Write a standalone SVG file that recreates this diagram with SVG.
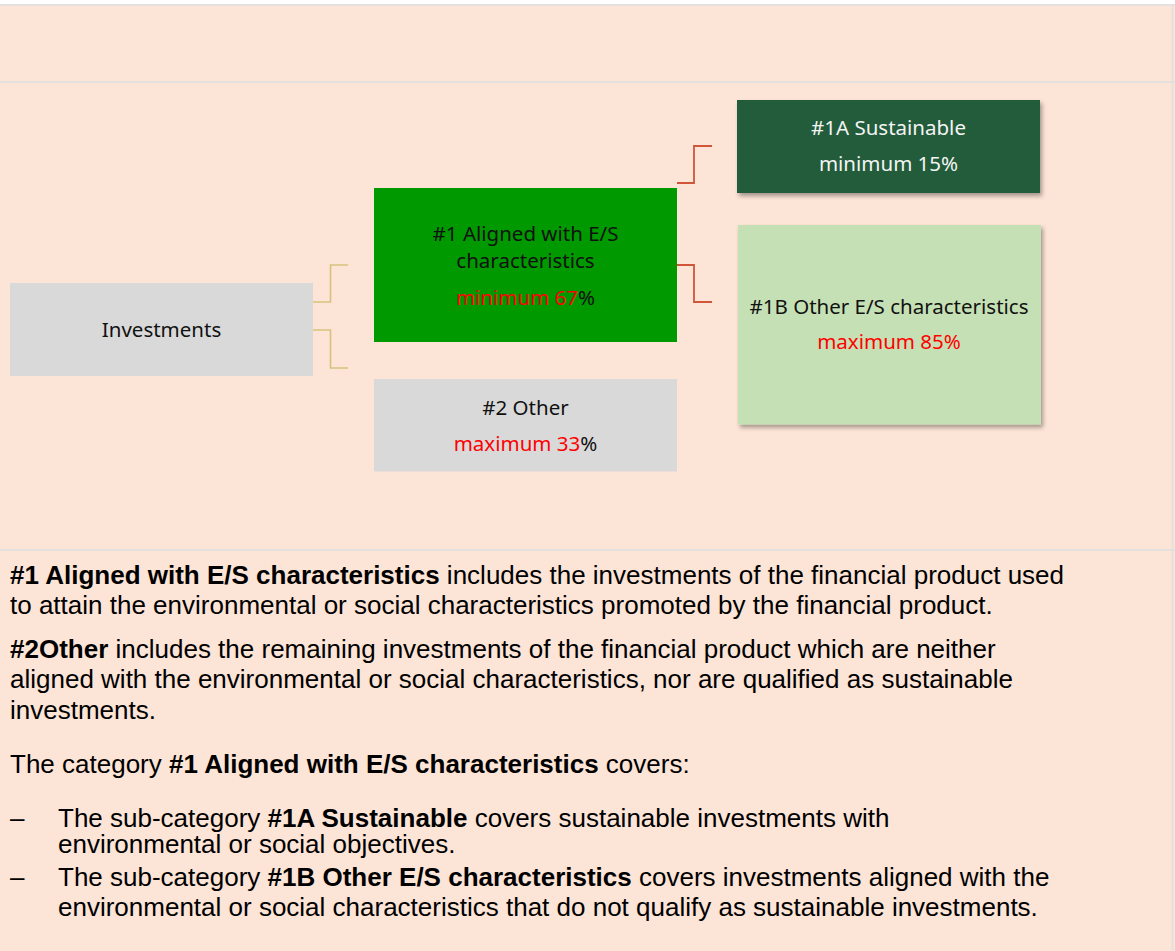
<svg xmlns="http://www.w3.org/2000/svg" width="1175" height="951" viewBox="0 0 1175 951">
<defs>
<style>
.bg{fill:#FCE4D6}
.rule{stroke:#E3E0DE;stroke-width:2;fill:none}
.box text{font-family:"Noto Sans","Open Sans",sans-serif;font-size:20.5px;text-anchor:middle;fill:#111}
.box .red{fill:#FF0000}
.box .wt{fill:#F4F4F4}
.yc{stroke:#D6C27C;stroke-width:1.6;fill:none}
.rc{stroke:#D0553A;stroke-width:1.8;fill:none}
.body{font-family:"Liberation Sans",Arial,sans-serif;font-size:26px;fill:#000}
.b{font-weight:bold}
</style>
<filter id="sh" x="-10%" y="-10%" width="125%" height="130%">
<feDropShadow dx="2" dy="3" stdDeviation="2" flood-color="#000" flood-opacity="0.35"/>
</filter>
</defs>
<rect class="bg" x="0" y="0" width="1175" height="951"/>
<rect x="0" y="0" width="1175" height="4" fill="#FFFFFF"/>
<line class="rule" x1="0" y1="5" x2="1175" y2="5"/>
<line class="rule" x1="0" y1="82" x2="1175" y2="82"/>
<line class="rule" x1="0" y1="550" x2="1175" y2="550"/>
<line class="rule" x1="1172.5" y1="5" x2="1172.5" y2="951" stroke-width="1.5"/>

<g id="connectors">
<polyline class="yc" points="313,302 330.5,302 330.5,265 348,265"/>
<polyline class="yc" points="313,330 330.5,330 330.5,368 348,368"/>
<polyline class="rc" points="677,183 694,183 694,146 712,146"/>
<polyline class="rc" points="677,265 694,265 694,302 712,302"/>
</g>

<g id="investments" class="box">
<rect x="10" y="283" width="303" height="93" fill="#D9D9D9"/>
<text x="161.5" y="337">Investments</text>
</g>

<g id="aligned" class="box">
<rect x="374" y="188" width="303" height="154" fill="#009900"/>
<text x="525.5" y="241">#1 Aligned with E/S</text>
<text x="525.5" y="267.5">characteristics</text>
<text x="525.5" y="305"><tspan class="red">minimum 67</tspan>%</text>
</g>

<g id="other" class="box">
<rect x="374" y="379" width="303" height="92.5" fill="#D9D9D9"/>
<text x="525.5" y="414.5">#2 Other</text>
<text x="525.5" y="451"><tspan class="red">maximum 33</tspan>%</text>
</g>

<g id="sustainable" class="box">
<rect x="737" y="100" width="303" height="93" fill="#245B3B" filter="url(#sh)"/>
<text class="wt" x="888.5" y="135">#1A Sustainable</text>
<text class="wt" x="888.5" y="171">minimum 15%</text>
</g>

<g id="other-es" class="box">
<rect x="738" y="225" width="303" height="199.5" fill="#C5E0B4" filter="url(#sh)"/>
<text x="889" y="313.5">#1B Other E/S characteristics</text>
<text class="red" x="889" y="349">maximum 85%</text>
</g>

<g id="explanation" class="body">
<text x="10" y="584"><tspan class="b">#1 Aligned with E/S characteristics</tspan> includes the investments of the financial product used</text>
<text x="10" y="614">to attain the environmental or social characteristics promoted by the financial product.</text>
<text x="10" y="658"><tspan class="b">#2Other</tspan> includes the remaining investments of the financial product which are neither</text>
<text x="10" y="688">aligned with the environmental or social characteristics, nor are qualified as sustainable</text>
<text x="10" y="719">investments.</text>
<text x="10" y="773">The category <tspan class="b">#1 Aligned with E/S characteristics</tspan> covers:</text>
<text x="10" y="827">–</text>
<text x="58" y="827">The sub-category <tspan class="b">#1A Sustainable</tspan> covers sustainable investments with</text>
<text x="58" y="853">environmental or social objectives.</text>
<text x="10" y="885.5">–</text>
<text x="58" y="885.5">The sub-category <tspan class="b">#1B Other E/S characteristics</tspan> covers investments aligned with the</text>
<text x="58" y="916">environmental or social characteristics that do not qualify as sustainable investments.</text>
</g>
</svg>
